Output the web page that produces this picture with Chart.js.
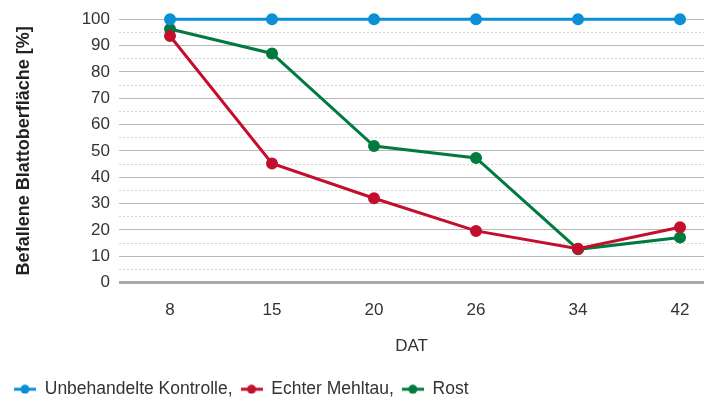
<!DOCTYPE html>
<html>
<head>
<meta charset="utf-8">
<script src="https://cdn.jsdelivr.net/npm/chart.js@4"></script>
<style>
  html, body { margin: 0; padding: 0; background: #fff; overflow: hidden; }
  #wrap { width: 713px; height: 408px; }
</style>
</head>
<body>
<div id="wrap"><canvas id="chart"></canvas></div>
<script>
const labels = ["8", "15", "20", "26", "34", "42"];
const kontrolle = [100, 100, 100, 100, 100, 100];
const mehltau = [93.6, 45.2, 32.0, 19.6, 12.8, 21.0];
const rost = [96.3, 87.0, 51.8, 47.3, 12.6, 17.1];

const blue = "#0a90d6";
const red = "#c20f2e";
const green = "#007a3e";
const font = "'Liberation Sans', Arial, sans-serif";

// little line+dot marker for the legend
function marker(color) {
  const c = document.createElement("canvas");
  c.width = 22;
  c.height = 10;
  const g = c.getContext("2d");
  g.strokeStyle = color;
  g.lineWidth = 3;
  g.beginPath();
  g.moveTo(0, 5);
  g.lineTo(22, 5);
  g.stroke();
  g.fillStyle = color;
  g.beginPath();
  g.arc(11, 5, 4.5, 0, Math.PI * 2);
  g.fill();
  return c;
}

function series(label, values, color) {
  return {
    label: label,
    data: values.map((v, i) => ({ x: i, y: v })),
    borderColor: color,
    backgroundColor: color,
    borderWidth: 3,
    pointRadius: 4.5,
    pointHoverRadius: 4.5,
    clip: false,
    marker: marker(color)
  };
}

new Chart(document.getElementById("chart"), {
  type: "line",
  data: {
    datasets: [
      series("Unbehandelte Kontrolle,", kontrolle, blue),
      series("Echter Mehltau,", mehltau, red),
      series("Rost", rost, green)
    ]
  },
  options: {
    responsive: true,
    maintainAspectRatio: false,
    animation: false,
    layout: { padding: { left: 6, right: 9, top: 18, bottom: 0 } },
    plugins: {
      tooltip: { enabled: false },
      legend: {
        position: "bottom",
        align: "start",
        labels: {
          usePointStyle: true,
          pointStyleWidth: 22,
          padding: 8,
          color: "#333",
          font: { family: font, size: 17.5 },
          generateLabels: (chart) => chart.data.datasets.map((ds, i) => ({
            text: ds.label,
            pointStyle: ds.marker,
            fillStyle: ds.borderColor,
            strokeStyle: ds.borderColor,
            lineWidth: 0,
            fontColor: "#333",
            datasetIndex: i,
            hidden: false
          }))
        }
      }
    },
    scales: {
      x: {
        type: "linear",
        min: -0.5,
        max: 5.235,
        afterBuildTicks: (s) => { s.ticks = labels.map((_, i) => ({ value: i })); },
        afterFit: (s) => { s.height = 90; },
        ticks: {
          callback: (v) => labels[v],
          color: "#333",
          padding: 10,
          maxRotation: 0,
          font: { family: font, size: 17 }
        },
        grid: { display: false },
        border: { display: false },
        title: {
          display: true,
          text: "DAT",
          color: "#333",
          padding: { top: 0, bottom: 16 },
          font: { family: font, size: 17 }
        }
      },
      y: {
        min: 0,
        max: 100,
        afterFit: (s) => { s.width = 113; },
        ticks: {
          stepSize: 10,
          color: "#333",
          padding: 9,
          font: { family: font, size: 17 }
        },
        grid: {
          drawTicks: false,
          color: (ctx) => ctx.tick && ctx.tick.value === 0 ? "#a8a8a8" : "#b8b8b8",
          lineWidth: (ctx) => ctx.tick && ctx.tick.value === 0 ? 3 : 1
        },
        border: { display: false },
        title: {
          display: true,
          text: "Befallene Blattoberfläche [%]",
          color: "#222",
          padding: { top: 7, bottom: 0 },
          font: { family: font, size: 18, weight: "bold" }
        }
      },
      y2: {
        position: "left",
        min: 0,
        max: 100,
        afterFit: (s) => { s.width = 0; },
        ticks: { display: false, stepSize: 5 },
        grid: {
          drawTicks: false,
          color: (ctx) => ctx.tick && ctx.tick.value % 10 ? "#d4d4d4" : "rgba(0,0,0,0)",
          lineWidth: 1
        },
        border: { display: false, dash: [2, 2] }
      }
    }
  }
});
</script>
</body>
</html>
